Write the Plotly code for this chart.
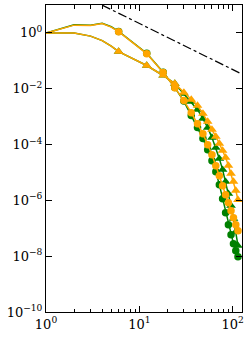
import plotly.graph_objects as go

# wavenumbers (line points) ; markers every 6th shell
k = [1, 2, 3, 4, 5, 6, 12, 18, 24, 30, 36, 42, 48, 54, 60, 66, 72, 78, 84, 90, 96, 102, 108, 114]

green_circ = [1.0, 1.96, 1.89, 2.22, 1.66, 1.13, 0.186, 0.039, 0.0110, 0.0036, 1.09e-3, 4.04e-4,
              1.63e-4, 6.56e-5, 2.65e-5, 1.07e-5, 3.66e-6, 1.15e-6, 3.62e-7, 1.35e-7, 5.90e-8,
              2.81e-8, 1.57e-8, 9.6e-9]
orange_circ = [1.0, 1.90, 1.83, 2.15, 1.61, 1.11, 0.181, 0.0381, 0.01095, 3.75e-3, 1.39e-3, 5.61e-4,
               2.46e-4, 9.92e-5, 4.35e-5, 1.75e-5, 7.68e-6, 3.36e-6, 1.60e-6, 8.27e-7, 4.27e-7,
               2.40e-7, 1.35e-7, 8.20e-8]
green_tri = [1.0, 1.0, 0.768, 0.530, 0.336, 0.214, 0.0679, 0.0298, 0.01538, 6.68e-3, 3.45e-3, 1.78e-3,
             8.48e-4, 4.03e-4, 1.77e-4, 7.74e-5, 3.12e-5, 1.26e-5, 4.68e-6, 1.74e-6, 6.46e-7,
             2.21e-7, 7.55e-8, 2.38e-8]
orange_tri = [1.0, 1.0, 0.768, 0.530, 0.336, 0.214, 0.0679, 0.0298, 0.01538, 7.32e-3, 4.11e-3, 2.50e-3,
              1.29e-3, 6.68e-4, 3.46e-4, 1.94e-4, 1.09e-4, 6.10e-5, 3.42e-5, 1.77e-5, 9.15e-6,
              4.73e-6, 2.25e-6, 1.05e-6]

ref_k = [4, 120]
ref_E = [9.9, 0.036]

ytick_vals = [1e-10, 1e-8, 1e-6, 1e-4, 1e-2, 1]
ytick_text = ["10<sup>\u221210</sup>", "10<sup>\u22128</sup>", "10<sup>\u22126</sup>",
              "10<sup>\u22124</sup>", "10<sup>\u22122</sup>", "10<sup>0</sup>"]
xtick_vals = [1, 10, 100]
xtick_text = ["10<sup>0</sup>", "10<sup>1</sup>", "10<sup>2</sup>"]
xminor = [2, 3, 4, 5, 6, 7, 8, 9, 20, 30, 40, 50, 60, 70, 80, 90]

GREEN = "#008000"
ORANGE = "#FFA500"
m0 = 5  # index of first marked shell

fig = go.Figure()
series = [
    (green_circ, GREEN, "circle", 7.5),
    (green_tri, GREEN, "triangle-up", 8.5),
    (orange_circ, ORANGE, "circle", 7.5),
    (orange_tri, ORANGE, "triangle-up", 8.5),
]
for ys, col, sym, sz in series:
    fig.add_trace(go.Scatter(x=k, y=ys, mode="lines", line=dict(color=col, width=1.5),
                             showlegend=False, hoverinfo="skip"))
    fig.add_trace(go.Scatter(x=k[m0:], y=ys[m0:], mode="markers",
                             marker=dict(color=col, symbol=sym, size=sz, line=dict(width=0)),
                             showlegend=False))

fig.add_trace(go.Scatter(x=ref_k, y=ref_E, mode="lines",
                         line=dict(color="black", width=1.2, dash="dashdot"), showlegend=False))

axis_common = dict(type="log", showline=True, linecolor="black", linewidth=1, mirror="ticks",
                   ticks="inside", ticklen=6, tickwidth=1, tickcolor="black",
                   showgrid=False, zeroline=False, automargin=False,
                   tickfont=dict(family="DejaVu Serif, Liberation Serif, serif", size=13, color="black"))

fig.update_xaxes(range=[0, 2.1], tickmode="array", tickvals=xtick_vals, ticktext=xtick_text,
                 minor=dict(tickmode="array", tickvals=xminor, ticks="inside", ticklen=3.5,
                            tickwidth=1, tickcolor="black", showgrid=False),
                 **axis_common)
fig.update_yaxes(range=[-10, 1], tickmode="array", tickvals=ytick_vals, ticktext=ytick_text,
                 **axis_common)

fig.update_layout(width=249, height=338, margin=dict(l=46, r=7, t=5, b=26, autoexpand=False),
                  plot_bgcolor="white", paper_bgcolor="white")

fig.write_html("out.html", config={"displayModeBar": False, "staticPlot": True},
               post_script="document.body.style.margin='0';document.body.style.padding='0';"
                           "document.body.style.overflow='hidden';")
